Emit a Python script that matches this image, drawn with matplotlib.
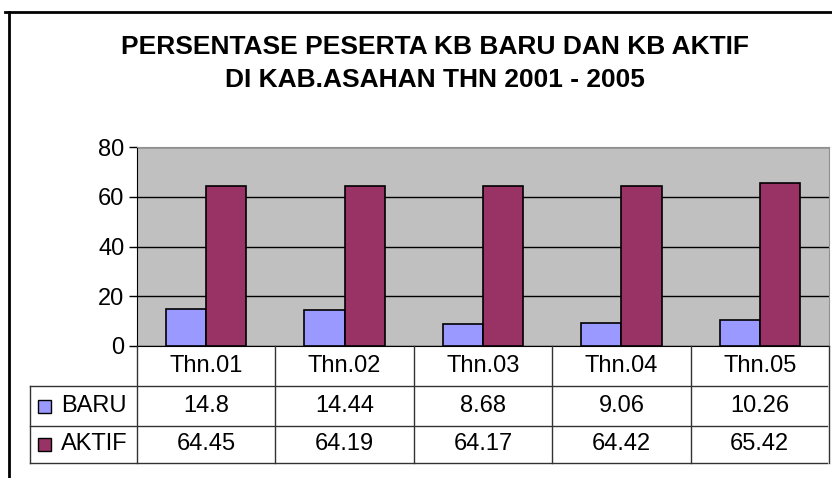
import matplotlib
matplotlib.use("Agg")
import numpy as np
import matplotlib.pyplot as plt
from matplotlib.lines import Line2D
from matplotlib.patches import Rectangle
from matplotlib import transforms

plt.rcParams['font.family'] = ['Liberation Sans', 'DejaVu Sans']

# data
categories = ['Thn.01', 'Thn.02', 'Thn.03', 'Thn.04', 'Thn.05']
baru = [14.8, 14.44, 8.68, 9.06, 10.26]
aktif = [64.45, 64.19, 64.17, 64.42, 65.42]
series_names = ['BARU', 'AKTIF']
colors = ['#9999FF', '#993366']

W, H = 832, 478


def fx(px):
    return px / W


def fy(py):
    return 1 - py / H


fig = plt.figure(figsize=(W / 100, H / 100), dpi=100)

# outer chart border (left and top only visible)
fig.add_artist(Line2D([fx(9), fx(9)], [fy(12), 0], color='black', lw=2))
fig.add_artist(Line2D([fx(5), 1], [fy(12), fy(12)], color='black', lw=2))

fig.text(fx(435), fy(47), 'PERSENTASE PESERTA KB BARU DAN KB AKTIF',
         ha='center', va='center', fontsize=19, fontweight='bold')
fig.text(fx(435), fy(80), 'DI KAB.ASAHAN THN 2001 - 2005',
         ha='center', va='center', fontsize=19, fontweight='bold')

ax = fig.add_axes([fx(137), fy(346), fx(829) - fx(137), fy(147) - fy(346)])
ax.set_facecolor('#C0C0C0')

x = np.arange(len(categories))
w = 0.29
ax.bar(x - w / 2, baru, w, color=colors[0], edgecolor='black', lw=1.2, zorder=3)
ax.bar(x + w / 2, aktif, w, color=colors[1], edgecolor='black', lw=1.2, zorder=3)

ax.set_xlim(-0.5, len(categories) - 0.5)
ax.set_ylim(0, 80)
ax.set_yticks([0, 20, 40, 60, 80])
ax.set_xticks([])
ax.tick_params(axis='y', labelsize=17, length=6, width=1, direction='out', pad=3)
ax.yaxis.grid(True, color='black', lw=1, zorder=1)
ax.set_axisbelow(True)
for s in ['top', 'right']:
    ax.spines[s].set_color('#909090')
for s in ['left', 'bottom']:
    ax.spines[s].set_color('black')

# data table below the plot
bt = transforms.blended_transform_factory(ax.transData, fig.transFigure)
row_y = [346, 386, 426, 463]
line_col = '#333333'
for i in range(len(categories) + 1):
    xv = i - 0.5
    fig.add_artist(Line2D([xv, xv], [fy(row_y[0]), fy(row_y[-1])],
                          transform=bt, color=line_col, lw=1))
fig.add_artist(Line2D([fx(30), fx(30)], [fy(row_y[1]), fy(row_y[-1])], color=line_col, lw=1))
for py in row_y[1:]:
    fig.add_artist(Line2D([fx(30), fx(827)], [fy(py), fy(py)], color=line_col, lw=1))

for i, c in enumerate(categories):
    fig.text(i, fy((row_y[0] + row_y[1]) / 2), c, transform=bt,
             ha='center', va='center', fontsize=17)

for r, (name, vals) in enumerate(zip(series_names, [baru, aktif])):
    yc = fy((row_y[r + 1] + row_y[r + 2]) / 2)
    for i, v in enumerate(vals):
        fig.text(i, yc, f'{v:g}', transform=bt, ha='center', va='center', fontsize=17)
    fig.add_artist(Rectangle((fx(38), yc - 6.5 / H), 13 / W, 13 / H,
                             facecolor=colors[r], edgecolor='black', lw=1))
    fig.text(fx(61), yc, name, ha='left', va='center', fontsize=17)

fig.savefig('out.png', dpi=100)
